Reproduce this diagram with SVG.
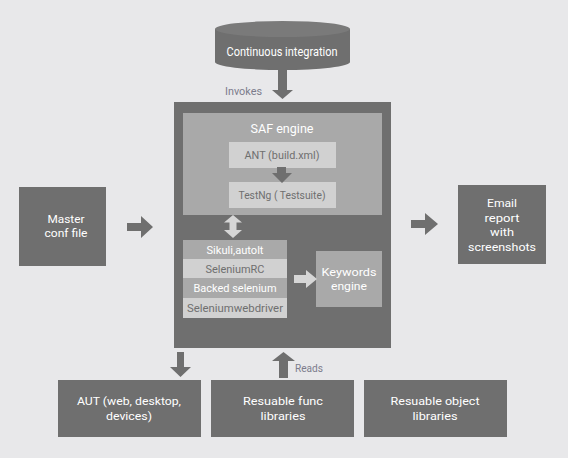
<svg xmlns="http://www.w3.org/2000/svg" width="568" height="458" viewBox="0 0 568 458">
<style>
text{font-family:Roboto,"Liberation Sans",sans-serif;text-anchor:middle;}
.dk{fill:#6f6f6f;}
.md{fill:#a9a9a9;}
.lt{fill:#d1d1d1;}
.w{fill:#ffffff;font-size:12px;}
.m{fill:#ffffff;font-size:11.5px;}
.g{fill:#6f6f6f;font-size:11px;}
.lbl{fill:#7c7c8c;font-size:11px;text-anchor:start;}
.ar{fill:#6f6f6f;}
.arl{fill:#d6d6d6;}
</style>
<rect width="568" height="458" fill="#e8e8ea"/>
<g id="ci">
<path class="dk" d="M215,29 L215,62 A67.5,8 0 0 0 350,62 L350,29 Z"/>
<ellipse cx="282.5" cy="29" rx="67.5" ry="8" fill="#7a7a7a"/>
<text class="w" x="282" y="56" textLength="111" lengthAdjust="spacingAndGlyphs">Continuous integration</text>
</g>
<g id="main">
<rect class="dk" x="174" y="102" width="217" height="246"/>
</g>
<g id="saf">
<rect class="md" x="183" y="113" width="199" height="102"/>
<text class="w" x="282" y="133" style="font-size:13px" textLength="63" lengthAdjust="spacingAndGlyphs">SAF engine</text>
</g>
<g id="ant">
<rect class="lt" x="229" y="142" width="107" height="26"/>
<text class="g" x="282" y="159" textLength="75" lengthAdjust="spacingAndGlyphs">ANT (build.xml)</text>
</g>
<g id="testng">
<rect class="lt" x="229" y="182" width="107" height="26"/>
<text class="g" x="282" y="199" textLength="87" lengthAdjust="spacingAndGlyphs">TestNg ( Testsuite)</text>
</g>
<g id="stack">
<rect class="md" x="183" y="240" width="104" height="19"/>
<text class="w" x="235" y="254" style="font-size:11px" textLength="57" lengthAdjust="spacingAndGlyphs">Sikuli,autolt</text>
<rect class="lt" x="183" y="259" width="104" height="19"/>
<text class="g" x="235" y="273" textLength="59" lengthAdjust="spacingAndGlyphs">SeleniumRC</text>
<rect class="md" x="183" y="278" width="104" height="20"/>
<text class="w" x="235" y="292" style="font-size:11px" textLength="83" lengthAdjust="spacingAndGlyphs">Backed selenium</text>
<rect class="lt" x="183" y="298" width="104" height="20"/>
<text class="g" x="235" y="312" textLength="96" lengthAdjust="spacingAndGlyphs">Seleniumwebdriver</text>
</g>
<g id="keywords">
<rect class="md" x="316" y="251" width="66" height="56"/>
<text class="m" x="349" y="276" textLength="55" lengthAdjust="spacingAndGlyphs">Keywords</text>
<text class="m" x="349" y="290" textLength="36" lengthAdjust="spacingAndGlyphs">engine</text>
</g>
<g id="master">
<rect class="dk" x="19" y="187" width="87" height="79"/>
<text class="m" x="66" y="223" textLength="37" lengthAdjust="spacingAndGlyphs">Master</text>
<text class="m" x="66" y="237" textLength="43" lengthAdjust="spacingAndGlyphs">conf file</text>
</g>
<g id="email">
<rect class="dk" x="458" y="185" width="88" height="79"/>
<text class="m" x="502" y="207" textLength="30" lengthAdjust="spacingAndGlyphs">Email</text>
<text class="m" x="502" y="221.5" textLength="35" lengthAdjust="spacingAndGlyphs">report</text>
<text class="m" x="502" y="236" textLength="24" lengthAdjust="spacingAndGlyphs">with</text>
<text class="m" x="502" y="250.5" textLength="68" lengthAdjust="spacingAndGlyphs">screenshots</text>
</g>
<g id="aut">
<rect class="dk" x="58" y="380" width="143" height="57"/>
<text class="m" x="129" y="405" textLength="104" lengthAdjust="spacingAndGlyphs">AUT (web, desktop,</text>
<text class="m" x="129" y="419.5" textLength="46" lengthAdjust="spacingAndGlyphs">devices)</text>
</g>
<g id="func">
<rect class="dk" x="211" y="380" width="143" height="57"/>
<text class="m" x="283" y="405" textLength="80" lengthAdjust="spacingAndGlyphs">Resuable func</text>
<text class="m" x="283" y="419.5" textLength="45" lengthAdjust="spacingAndGlyphs">libraries</text>
</g>
<g id="obj">
<rect class="dk" x="364" y="380" width="143" height="57"/>
<text class="m" x="435" y="405" textLength="89" lengthAdjust="spacingAndGlyphs">Resuable object</text>
<text class="m" x="435" y="419.5" textLength="45" lengthAdjust="spacingAndGlyphs">libraries</text>
</g>
<g id="connectors">
<polygon class="ar" points="278,70 287,70 287,90 293,90 282.5,99 272,90 278,90"/>
<text class="lbl" x="225" y="95" textLength="37" lengthAdjust="spacingAndGlyphs">Invokes</text>
<polygon class="ar" points="277,167 286,167 286,173 292,173 282,183 272,173 277,173"/>
<polygon class="arl" points="233,215 242,222.5 236.5,222.5 236.5,230 242,230 233,238 224,230 229.5,230 229.5,222.5 224,222.5"/>
<polygon class="arl" points="294,275 306,275 306,270 317,279 306,288 306,283 294,283"/>
<polygon class="ar" points="127,223 141,223 141,216 153,227 141,238 141,231 127,231"/>
<polygon class="ar" points="411,220 425,220 425,213 438,224 425,235 425,228 411,228"/>
<polygon class="ar" points="177,352 184,352 184,367 191,367 180.5,377 170,367 177,367"/>
<polygon class="ar" points="279,378 288,378 288,361 295,361 283.5,352 272,361 279,361"/>
<text class="lbl" x="295" y="372" textLength="28" lengthAdjust="spacingAndGlyphs">Reads</text>
</g>
</svg>
